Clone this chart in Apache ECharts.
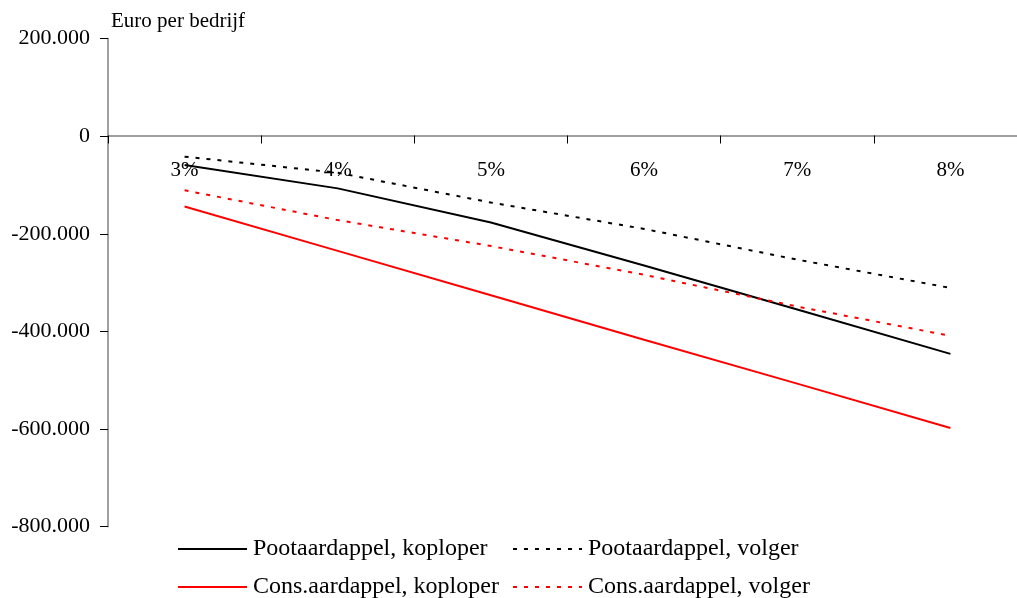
<!DOCTYPE html>
<html>
<head>
  <meta charset="utf-8">
  <style>
    html, body { margin: 0; padding: 0; width: 100%; height: 100%; overflow: hidden; background: #fff; }
  </style>
  <script src="https://cdn.jsdelivr.net/npm/echarts@6/dist/echarts.min.js"></script>
</head>
<body>
  <div id="container" style="width:1017px;height:598px;"></div>
  <script>
    var categories = ['3%', '4%', '5%', '6%', '7%', '8%'];
    var pootKoploper = [-59000, -107000, -177000, -265000, -355000, -446000];
    var pootVolger = [-42000, -75000, -136000, -190000, -253000, -311000];
    var consKoploper = [-144000, -235000, -326000, -417000, -507000, -598000];
    var consVolger = [-111000, -172000, -225000, -284000, -349000, -409000];
    var yTicks = { min: -800000, max: 200000, interval: 200000 };
    var seriesNames = ['Pootaardappel, koploper', 'Pootaardappel, volger', 'Cons.aardappel, koploper', 'Cons.aardappel, volger'];

    var font = '"Liberation Serif", "Times New Roman", serif';
    var dotted = [4, 7];

    var myChart = echarts.init(document.getElementById('container'), null, { renderer: 'canvas' });

    function fmt(v) {
      if (v === 0) return '0';
      return (v / 1000).toFixed(0) + '.000';
    }

    // one legend per item, laid out as a 2x2 block
    var legendPos = [[177, 537], [512, 537], [177, 575], [512, 575]];
    var legends = seriesNames.map(function (name, i) {
      return {
        data: [name],
        left: legendPos[i][0],
        top: legendPos[i][1],
        padding: 0,
        itemWidth: 69, itemHeight: 10,
        itemStyle: { opacity: 0 },
        textStyle: { fontFamily: font, fontSize: 24, color: '#000', padding: [0, 0, 0, 1] }
      };
    });

    var option = {
      animation: false,
      title: {
        text: 'Euro per bedrijf',
        left: 106,
        top: 6,
        textStyle: { fontFamily: font, fontSize: 21, fontWeight: 'normal', color: '#000' }
      },
      grid: { left: 108, width: 919, top: 38.5, bottom: 71.3, outerBoundsMode: 'none', containLabel: false },
      legend: legends,
      xAxis: [
        {
          type: 'category',
          data: categories,
          boundaryGap: true,
          position: 'top',
          offset: -97,
          axisLine: { onZero: false, lineStyle: { color: '#808080', width: 1.5 } },
          axisTick: { show: true, inside: true, length: 8, lineStyle: { color: '#000' } },
          axisLabel: { inside: true, margin: 24, fontFamily: font, fontSize: 21, color: '#000' },
          splitLine: { show: false }
        }
      ],
      yAxis: {
        type: 'value',
        min: yTicks.min,
        max: yTicks.max,
        interval: yTicks.interval,
        axisLine: { show: true, lineStyle: { color: '#808080', width: 1.5 } },
        axisTick: { show: true, length: 8, lineStyle: { color: '#000' } },
        axisLabel: { margin: 18, fontFamily: font, fontSize: 22, color: '#000', formatter: fmt },
        splitLine: { show: false }
      },
      series: [
        {
          name: seriesNames[0], type: 'line', data: pootKoploper, symbol: 'none',
          lineStyle: { color: '#000', width: 2 }, itemStyle: { color: '#000' }
        },
        {
          name: seriesNames[1], type: 'line', data: pootVolger, symbol: 'none',
          lineStyle: { color: '#000', width: 2, type: dotted }, itemStyle: { color: '#000' }
        },
        {
          name: seriesNames[2], type: 'line', data: consKoploper, symbol: 'none',
          lineStyle: { color: '#ff0000', width: 2 }, itemStyle: { color: '#ff0000' }
        },
        {
          name: seriesNames[3], type: 'line', data: consVolger, symbol: 'none',
          lineStyle: { color: '#ff0000', width: 2, type: dotted }, itemStyle: { color: '#ff0000' }
        }
      ]
    };

    myChart.setOption(option);
    window.addEventListener('resize', myChart.resize);
  </script>
</body>
</html>
